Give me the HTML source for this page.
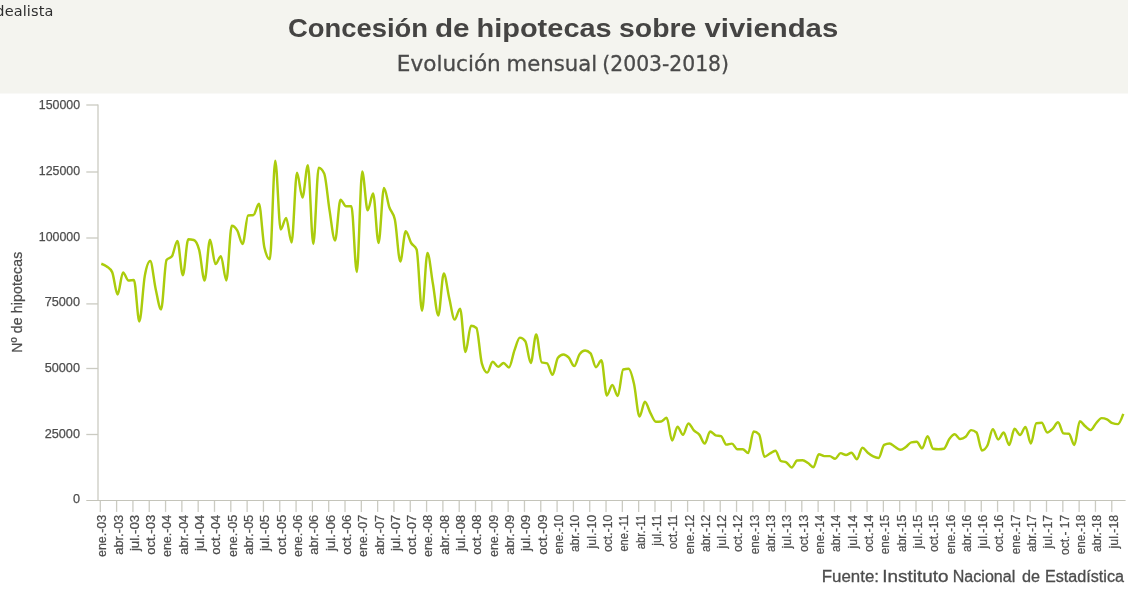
<!DOCTYPE html>
<html lang="es"><head><meta charset="utf-8"><title>Concesión de hipotecas sobre viviendas</title>
<style>
html,body{margin:0;padding:0;background:#fff;}
body{width:1128px;height:591px;position:relative;overflow:hidden;font-family:"Liberation Sans",sans-serif;}
.hdr{position:absolute;left:0;top:0;width:1128px;height:93px;background:#f4f4ef;}
</style></head><body>
<div class="hdr"></div>
<svg width="1128" height="591" viewBox="0 0 1128 591" style="position:absolute;left:0;top:0">
<rect x="0" y="0" width="1128" height="93.5" fill="#f4f4ef"/>
<text y="36.7" font-family="'Liberation Sans',sans-serif" font-size="26" font-weight="bold" fill="#454443"><tspan x="288.02" textLength="140.08" lengthAdjust="spacingAndGlyphs">Concesión</tspan> <tspan x="434.97" textLength="34.66" lengthAdjust="spacingAndGlyphs">de</tspan> <tspan x="476.48" textLength="135.28" lengthAdjust="spacingAndGlyphs">hipotecas</tspan> <tspan x="619.03" textLength="77.34" lengthAdjust="spacingAndGlyphs">sobre</tspan> <tspan x="704.50" textLength="133.72" lengthAdjust="spacingAndGlyphs">viviendas</tspan></text>
<text y="70.6" font-family="'DejaVu Sans','Liberation Sans',sans-serif" font-size="21" fill="#4a4a4a" stroke="#4a4a4a" stroke-width="0.3"><tspan x="396.88" textLength="103.89" lengthAdjust="spacingAndGlyphs">Evolución</tspan> <tspan x="506.49" textLength="90.55" lengthAdjust="spacingAndGlyphs">mensual</tspan> <tspan x="602.36" textLength="126.63" lengthAdjust="spacingAndGlyphs">(2003-2018)</tspan></text>
<text x="-8.8" y="16.0" font-family="'DejaVu Sans','Liberation Sans',sans-serif" font-size="14.5" letter-spacing="0.12" fill="#2e2e2e">idealista</text>
<g stroke="#cbcbc2" stroke-width="1.3" fill="none">
<path d="M98 104.4V501"/>
<path d="M86.3 434.50H98"/>
<path d="M86.3 368.50H98"/>
<path d="M86.3 303.90H98"/>
<path d="M86.3 238.00H98"/>
<path d="M86.3 172.00H98"/>
<path d="M86.3 105.00H98"/>
<path d="M100.30 500.5V511.9"/>
<path d="M116.61 500.5V511.9"/>
<path d="M132.93 500.5V511.9"/>
<path d="M149.24 500.5V511.9"/>
<path d="M165.56 500.5V511.9"/>
<path d="M181.87 500.5V511.9"/>
<path d="M198.18 500.5V511.9"/>
<path d="M214.50 500.5V511.9"/>
<path d="M230.81 500.5V511.9"/>
<path d="M247.13 500.5V511.9"/>
<path d="M263.44 500.5V511.9"/>
<path d="M279.75 500.5V511.9"/>
<path d="M296.07 500.5V511.9"/>
<path d="M312.38 500.5V511.9"/>
<path d="M328.70 500.5V511.9"/>
<path d="M345.01 500.5V511.9"/>
<path d="M361.32 500.5V511.9"/>
<path d="M377.64 500.5V511.9"/>
<path d="M393.95 500.5V511.9"/>
<path d="M410.27 500.5V511.9"/>
<path d="M426.58 500.5V511.9"/>
<path d="M442.89 500.5V511.9"/>
<path d="M459.21 500.5V511.9"/>
<path d="M475.52 500.5V511.9"/>
<path d="M491.84 500.5V511.9"/>
<path d="M508.15 500.5V511.9"/>
<path d="M524.46 500.5V511.9"/>
<path d="M540.78 500.5V511.9"/>
<path d="M557.09 500.5V511.9"/>
<path d="M573.41 500.5V511.9"/>
<path d="M589.72 500.5V511.9"/>
<path d="M606.03 500.5V511.9"/>
<path d="M622.35 500.5V511.9"/>
<path d="M638.66 500.5V511.9"/>
<path d="M654.98 500.5V511.9"/>
<path d="M671.29 500.5V511.9"/>
<path d="M687.60 500.5V511.9"/>
<path d="M703.92 500.5V511.9"/>
<path d="M720.23 500.5V511.9"/>
<path d="M736.55 500.5V511.9"/>
<path d="M752.86 500.5V511.9"/>
<path d="M769.17 500.5V511.9"/>
<path d="M785.49 500.5V511.9"/>
<path d="M801.80 500.5V511.9"/>
<path d="M818.12 500.5V511.9"/>
<path d="M834.43 500.5V511.9"/>
<path d="M850.74 500.5V511.9"/>
<path d="M867.06 500.5V511.9"/>
<path d="M883.37 500.5V511.9"/>
<path d="M899.69 500.5V511.9"/>
<path d="M916.00 500.5V511.9"/>
<path d="M932.31 500.5V511.9"/>
<path d="M948.63 500.5V511.9"/>
<path d="M964.94 500.5V511.9"/>
<path d="M981.26 500.5V511.9"/>
<path d="M997.57 500.5V511.9"/>
<path d="M1013.88 500.5V511.9"/>
<path d="M1030.20 500.5V511.9"/>
<path d="M1046.51 500.5V511.9"/>
<path d="M1062.83 500.5V511.9"/>
<path d="M1079.14 500.5V511.9"/>
<path d="M1095.45 500.5V511.9"/>
<path d="M1111.77 500.5V511.9"/>
</g>
<path d="M86.3 500.5H1125.6" stroke="#c4c4ba" stroke-width="1.1" fill="none"/>
<g font-family="'Liberation Sans',sans-serif" font-size="13.4" fill="#4d4d4d" stroke="#4d4d4d" stroke-width="0.25">
<text x="72.94" y="503.4" textLength="7.06" lengthAdjust="spacingAndGlyphs">0</text>
<text x="44.70" y="437.7" textLength="35.30" lengthAdjust="spacingAndGlyphs">25000</text>
<text x="44.70" y="371.9" textLength="35.30" lengthAdjust="spacingAndGlyphs">50000</text>
<text x="44.70" y="306.2" textLength="35.30" lengthAdjust="spacingAndGlyphs">75000</text>
<text x="38.80" y="240.5" textLength="41.20" lengthAdjust="spacingAndGlyphs">100000</text>
<text x="38.80" y="174.7" textLength="41.20" lengthAdjust="spacingAndGlyphs">125000</text>
<text x="38.80" y="109.0" textLength="41.20" lengthAdjust="spacingAndGlyphs">150000</text>
</g>
<g font-family="'Liberation Sans',sans-serif" font-size="13.3" fill="#4d4d4d" stroke="#4d4d4d" stroke-width="0.25">
<text transform="translate(106.20 514.8) rotate(-90)" x="-42.20" y="0" textLength="42.20" lengthAdjust="spacingAndGlyphs">ene.-03</text>
<text transform="translate(122.51 514.8) rotate(-90)" x="-39.90" y="0" textLength="39.90" lengthAdjust="spacingAndGlyphs">abr.-03</text>
<text transform="translate(138.83 514.8) rotate(-90)" x="-36.30" y="0" textLength="36.30" lengthAdjust="spacingAndGlyphs">jul.-03</text>
<text transform="translate(155.14 514.8) rotate(-90)" x="-39.90" y="0" textLength="39.90" lengthAdjust="spacingAndGlyphs">oct.-03</text>
<text transform="translate(171.46 514.8) rotate(-90)" x="-42.20" y="0" textLength="42.20" lengthAdjust="spacingAndGlyphs">ene.-04</text>
<text transform="translate(187.77 514.8) rotate(-90)" x="-39.90" y="0" textLength="39.90" lengthAdjust="spacingAndGlyphs">abr.-04</text>
<text transform="translate(204.08 514.8) rotate(-90)" x="-36.30" y="0" textLength="36.30" lengthAdjust="spacingAndGlyphs">jul.-04</text>
<text transform="translate(220.40 514.8) rotate(-90)" x="-39.90" y="0" textLength="39.90" lengthAdjust="spacingAndGlyphs">oct.-04</text>
<text transform="translate(236.71 514.8) rotate(-90)" x="-42.20" y="0" textLength="42.20" lengthAdjust="spacingAndGlyphs">ene.-05</text>
<text transform="translate(253.03 514.8) rotate(-90)" x="-39.90" y="0" textLength="39.90" lengthAdjust="spacingAndGlyphs">abr.-05</text>
<text transform="translate(269.34 514.8) rotate(-90)" x="-36.30" y="0" textLength="36.30" lengthAdjust="spacingAndGlyphs">jul.-05</text>
<text transform="translate(285.65 514.8) rotate(-90)" x="-39.90" y="0" textLength="39.90" lengthAdjust="spacingAndGlyphs">oct.-05</text>
<text transform="translate(301.97 514.8) rotate(-90)" x="-42.20" y="0" textLength="42.20" lengthAdjust="spacingAndGlyphs">ene.-06</text>
<text transform="translate(318.28 514.8) rotate(-90)" x="-39.90" y="0" textLength="39.90" lengthAdjust="spacingAndGlyphs">abr.-06</text>
<text transform="translate(334.60 514.8) rotate(-90)" x="-36.30" y="0" textLength="36.30" lengthAdjust="spacingAndGlyphs">jul.-06</text>
<text transform="translate(350.91 514.8) rotate(-90)" x="-39.90" y="0" textLength="39.90" lengthAdjust="spacingAndGlyphs">oct.-06</text>
<text transform="translate(367.22 514.8) rotate(-90)" x="-42.20" y="0" textLength="42.20" lengthAdjust="spacingAndGlyphs">ene.-07</text>
<text transform="translate(383.54 514.8) rotate(-90)" x="-39.90" y="0" textLength="39.90" lengthAdjust="spacingAndGlyphs">abr.-07</text>
<text transform="translate(399.85 514.8) rotate(-90)" x="-36.30" y="0" textLength="36.30" lengthAdjust="spacingAndGlyphs">jul.-07</text>
<text transform="translate(416.17 514.8) rotate(-90)" x="-39.90" y="0" textLength="39.90" lengthAdjust="spacingAndGlyphs">oct.-07</text>
<text transform="translate(432.48 514.8) rotate(-90)" x="-42.20" y="0" textLength="42.20" lengthAdjust="spacingAndGlyphs">ene.-08</text>
<text transform="translate(448.79 514.8) rotate(-90)" x="-39.90" y="0" textLength="39.90" lengthAdjust="spacingAndGlyphs">abr.-08</text>
<text transform="translate(465.11 514.8) rotate(-90)" x="-36.30" y="0" textLength="36.30" lengthAdjust="spacingAndGlyphs">jul.-08</text>
<text transform="translate(481.42 514.8) rotate(-90)" x="-39.90" y="0" textLength="39.90" lengthAdjust="spacingAndGlyphs">oct.-08</text>
<text transform="translate(497.74 514.8) rotate(-90)" x="-42.20" y="0" textLength="42.20" lengthAdjust="spacingAndGlyphs">ene.-09</text>
<text transform="translate(514.05 514.8) rotate(-90)" x="-39.90" y="0" textLength="39.90" lengthAdjust="spacingAndGlyphs">abr.-09</text>
<text transform="translate(530.36 514.8) rotate(-90)" x="-36.30" y="0" textLength="36.30" lengthAdjust="spacingAndGlyphs">jul.-09</text>
<text transform="translate(546.68 514.8) rotate(-90)" x="-39.90" y="0" textLength="39.90" lengthAdjust="spacingAndGlyphs">oct.-09</text>
<text transform="translate(562.99 514.8) rotate(-90)" x="-39.50" y="0" textLength="39.50" lengthAdjust="spacingAndGlyphs">ene.-10</text>
<text transform="translate(579.31 514.8) rotate(-90)" x="-37.20" y="0" textLength="37.20" lengthAdjust="spacingAndGlyphs">abr.-10</text>
<text transform="translate(595.62 514.8) rotate(-90)" x="-33.60" y="0" textLength="33.60" lengthAdjust="spacingAndGlyphs">jul.-10</text>
<text transform="translate(611.93 514.8) rotate(-90)" x="-37.20" y="0" textLength="37.20" lengthAdjust="spacingAndGlyphs">oct.-10</text>
<text transform="translate(628.25 514.8) rotate(-90)" x="-36.80" y="0" textLength="36.80" lengthAdjust="spacingAndGlyphs">ene.-11</text>
<text transform="translate(644.56 514.8) rotate(-90)" x="-34.50" y="0" textLength="34.50" lengthAdjust="spacingAndGlyphs">abr.-11</text>
<text transform="translate(660.88 514.8) rotate(-90)" x="-30.90" y="0" textLength="30.90" lengthAdjust="spacingAndGlyphs">jul.-11</text>
<text transform="translate(677.19 514.8) rotate(-90)" x="-34.50" y="0" textLength="34.50" lengthAdjust="spacingAndGlyphs">oct.-11</text>
<text transform="translate(693.50 514.8) rotate(-90)" x="-39.50" y="0" textLength="39.50" lengthAdjust="spacingAndGlyphs">ene.-12</text>
<text transform="translate(709.82 514.8) rotate(-90)" x="-37.20" y="0" textLength="37.20" lengthAdjust="spacingAndGlyphs">abr.-12</text>
<text transform="translate(726.13 514.8) rotate(-90)" x="-33.60" y="0" textLength="33.60" lengthAdjust="spacingAndGlyphs">jul.-12</text>
<text transform="translate(742.45 514.8) rotate(-90)" x="-37.20" y="0" textLength="37.20" lengthAdjust="spacingAndGlyphs">oct.-12</text>
<text transform="translate(758.76 514.8) rotate(-90)" x="-39.50" y="0" textLength="39.50" lengthAdjust="spacingAndGlyphs">ene.-13</text>
<text transform="translate(775.07 514.8) rotate(-90)" x="-37.20" y="0" textLength="37.20" lengthAdjust="spacingAndGlyphs">abr.-13</text>
<text transform="translate(791.39 514.8) rotate(-90)" x="-33.60" y="0" textLength="33.60" lengthAdjust="spacingAndGlyphs">jul.-13</text>
<text transform="translate(807.70 514.8) rotate(-90)" x="-37.20" y="0" textLength="37.20" lengthAdjust="spacingAndGlyphs">oct.-13</text>
<text transform="translate(824.02 514.8) rotate(-90)" x="-39.50" y="0" textLength="39.50" lengthAdjust="spacingAndGlyphs">ene.-14</text>
<text transform="translate(840.33 514.8) rotate(-90)" x="-37.20" y="0" textLength="37.20" lengthAdjust="spacingAndGlyphs">abr.-14</text>
<text transform="translate(856.64 514.8) rotate(-90)" x="-33.60" y="0" textLength="33.60" lengthAdjust="spacingAndGlyphs">jul.-14</text>
<text transform="translate(872.96 514.8) rotate(-90)" x="-37.20" y="0" textLength="37.20" lengthAdjust="spacingAndGlyphs">oct.-14</text>
<text transform="translate(889.27 514.8) rotate(-90)" x="-39.50" y="0" textLength="39.50" lengthAdjust="spacingAndGlyphs">ene.-15</text>
<text transform="translate(905.59 514.8) rotate(-90)" x="-37.20" y="0" textLength="37.20" lengthAdjust="spacingAndGlyphs">abr.-15</text>
<text transform="translate(921.90 514.8) rotate(-90)" x="-33.60" y="0" textLength="33.60" lengthAdjust="spacingAndGlyphs">jul.-15</text>
<text transform="translate(938.21 514.8) rotate(-90)" x="-37.20" y="0" textLength="37.20" lengthAdjust="spacingAndGlyphs">oct.-15</text>
<text transform="translate(954.53 514.8) rotate(-90)" x="-39.50" y="0" textLength="39.50" lengthAdjust="spacingAndGlyphs">ene.-16</text>
<text transform="translate(970.84 514.8) rotate(-90)" x="-37.20" y="0" textLength="37.20" lengthAdjust="spacingAndGlyphs">abr.-16</text>
<text transform="translate(987.16 514.8) rotate(-90)" x="-33.60" y="0" textLength="33.60" lengthAdjust="spacingAndGlyphs">jul.-16</text>
<text transform="translate(1003.47 514.8) rotate(-90)" x="-37.20" y="0" textLength="37.20" lengthAdjust="spacingAndGlyphs">oct.-16</text>
<text transform="translate(1019.78 514.8) rotate(-90)" x="-39.50" y="0" textLength="39.50" lengthAdjust="spacingAndGlyphs">ene.-17</text>
<text transform="translate(1036.10 514.8) rotate(-90)" x="-37.20" y="0" textLength="37.20" lengthAdjust="spacingAndGlyphs">abr.-17</text>
<text transform="translate(1052.41 514.8) rotate(-90)" x="-33.60" y="0" textLength="33.60" lengthAdjust="spacingAndGlyphs">jul.-17</text>
<text transform="translate(1068.73 514.8) rotate(-90)" x="-40.20" y="0" textLength="40.20" lengthAdjust="spacingAndGlyphs">oct.- 17</text>
<text transform="translate(1085.04 514.8) rotate(-90)" x="-39.50" y="0" textLength="39.50" lengthAdjust="spacingAndGlyphs">ene.-18</text>
<text transform="translate(1101.35 514.8) rotate(-90)" x="-37.20" y="0" textLength="37.20" lengthAdjust="spacingAndGlyphs">abr.-18</text>
<text transform="translate(1117.67 514.8) rotate(-90)" x="-33.60" y="0" textLength="33.60" lengthAdjust="spacingAndGlyphs">jul.-18</text>
</g>
<text transform="translate(22.3 302.2) rotate(-90)" text-anchor="middle" font-family="'Liberation Sans',sans-serif" font-size="14" letter-spacing="0.18" fill="#4d4d4d" stroke="#4d4d4d" stroke-width="0.25">Nº de hipotecas</text>
<path d="M101.30 263.75 C103.11 264.43 104.92 265.11 106.74 266.50 C108.55 267.89 110.36 268.37 112.17 272.10 C113.98 275.83 115.80 294.50 117.61 294.50 C119.42 294.50 121.23 272.50 123.04 272.50 C124.86 272.50 126.67 280.50 128.48 280.50 C130.29 280.50 132.10 280.00 133.92 280.00 C135.73 280.00 137.54 321.50 139.35 321.50 C141.17 321.50 142.98 285.83 144.79 275.90 C146.60 265.97 148.41 261.00 150.23 261.00 C152.04 261.00 153.85 280.83 155.66 288.90 C157.47 296.97 159.29 309.40 161.10 309.40 C162.91 309.40 164.72 262.47 166.53 260.00 C168.35 257.53 170.16 258.77 171.97 256.30 C173.78 253.83 175.59 240.90 177.41 240.90 C179.22 240.90 181.03 275.30 182.84 275.30 C184.65 275.30 186.47 239.30 188.28 239.30 C190.09 239.30 191.90 239.53 193.71 240.00 C195.53 240.47 197.34 243.27 199.15 249.80 C200.96 256.33 202.78 280.50 204.59 280.50 C206.40 280.50 208.21 239.60 210.02 239.60 C211.84 239.60 213.65 264.10 215.46 264.10 C217.27 264.10 219.08 256.30 220.90 256.30 C222.71 256.30 224.52 280.50 226.33 280.50 C228.14 280.50 229.96 225.70 231.77 225.70 C233.58 225.70 235.39 227.35 237.20 230.40 C239.02 233.45 240.83 244.00 242.64 244.00 C244.45 244.00 246.26 215.83 248.08 215.50 C249.89 215.17 251.70 215.33 253.51 215.00 C255.32 214.67 257.14 203.80 258.95 203.80 C260.76 203.80 262.57 239.63 264.39 247.50 C266.20 255.37 268.01 259.30 269.82 259.30 C271.63 259.30 273.45 160.60 275.26 160.60 C277.07 160.60 278.88 229.50 280.69 229.50 C282.51 229.50 284.32 217.90 286.13 217.90 C287.94 217.90 289.75 242.50 291.57 242.50 C293.38 242.50 295.19 172.70 297.00 172.70 C298.81 172.70 300.63 197.50 302.44 197.50 C304.25 197.50 306.06 165.20 307.87 165.20 C309.69 165.20 311.50 244.00 313.31 244.00 C315.12 244.00 316.93 167.70 318.75 167.70 C320.56 167.70 322.37 169.63 324.18 173.50 C326.00 177.37 327.81 199.72 329.62 210.90 C331.43 222.08 333.24 240.60 335.06 240.60 C336.87 240.60 338.68 199.70 340.49 199.70 C342.30 199.70 344.12 206.20 345.93 206.20 C347.74 206.20 349.55 206.20 351.36 206.20 C353.18 206.20 354.99 272.00 356.80 272.00 C358.61 272.00 360.42 171.50 362.24 171.50 C364.05 171.50 365.86 210.30 367.67 210.30 C369.48 210.30 371.30 193.50 373.11 193.50 C374.92 193.50 376.73 242.90 378.54 242.90 C380.36 242.90 382.17 187.90 383.98 187.90 C385.79 187.90 387.60 202.22 389.42 207.50 C391.23 212.78 393.04 211.53 394.85 219.60 C396.67 227.67 398.48 261.50 400.29 261.50 C402.10 261.50 403.91 231.30 405.73 231.30 C407.54 231.30 409.35 239.98 411.16 243.00 C412.97 246.02 414.79 245.13 416.60 249.40 C418.41 253.67 420.22 310.70 422.03 310.70 C423.85 310.70 425.66 253.00 427.47 253.00 C429.28 253.00 431.09 273.35 432.91 283.75 C434.72 294.15 436.53 315.40 438.34 315.40 C440.15 315.40 441.97 273.50 443.78 273.50 C445.59 273.50 447.40 290.32 449.21 298.00 C451.03 305.68 452.84 319.60 454.65 319.60 C456.46 319.60 458.28 308.60 460.09 308.60 C461.90 308.60 463.71 352.10 465.52 352.10 C467.34 352.10 469.15 325.80 470.96 325.80 C472.77 325.80 474.58 326.53 476.40 328.00 C478.21 329.47 480.02 357.10 481.83 363.30 C483.64 369.50 485.46 372.60 487.27 372.60 C489.08 372.60 490.89 361.80 492.70 361.80 C494.52 361.80 496.33 366.70 498.14 366.70 C499.95 366.70 501.76 362.90 503.58 362.90 C505.39 362.90 507.20 367.40 509.01 367.40 C510.82 367.40 512.64 355.27 514.45 350.30 C516.26 345.33 518.07 337.60 519.89 337.60 C521.70 337.60 523.51 338.83 525.32 341.30 C527.13 343.77 528.95 362.90 530.76 362.90 C532.57 362.90 534.38 334.40 536.19 334.40 C538.01 334.40 539.82 361.80 541.63 362.40 C543.44 363.00 545.25 362.70 547.07 363.30 C548.88 363.90 550.69 374.80 552.50 374.80 C554.31 374.80 556.13 359.90 557.94 357.70 C559.75 355.50 561.56 354.40 563.37 354.40 C565.19 354.40 567.00 355.75 568.81 357.70 C570.62 359.65 572.43 366.10 574.25 366.10 C576.06 366.10 577.87 356.57 579.68 354.10 C581.50 351.63 583.31 350.40 585.12 350.40 C586.93 350.40 588.74 351.37 590.56 353.30 C592.37 355.23 594.18 367.20 595.99 367.20 C597.80 367.20 599.62 360.30 601.43 360.30 C603.24 360.30 605.05 395.50 606.86 395.50 C608.68 395.50 610.49 384.90 612.30 384.90 C614.11 384.90 615.92 396.10 617.74 396.10 C619.55 396.10 621.36 370.03 623.17 369.50 C624.98 368.97 626.80 368.70 628.61 368.70 C630.42 368.70 632.23 376.02 634.04 384.00 C635.86 391.98 637.67 416.60 639.48 416.60 C641.29 416.60 643.10 401.70 644.92 401.70 C646.73 401.70 648.54 409.57 650.35 412.90 C652.17 416.23 653.98 421.70 655.79 421.70 C657.60 421.70 659.41 421.63 661.23 421.50 C663.04 421.37 664.85 417.80 666.66 417.80 C668.47 417.80 670.29 440.50 672.10 440.50 C673.91 440.50 675.72 426.70 677.53 426.70 C679.35 426.70 681.16 434.80 682.97 434.80 C684.78 434.80 686.59 423.40 688.41 423.40 C690.22 423.40 692.03 428.53 693.84 430.40 C695.65 432.27 697.47 432.40 699.28 434.60 C701.09 436.80 702.90 443.60 704.71 443.60 C706.53 443.60 708.34 431.50 710.15 431.50 C711.96 431.50 713.78 434.70 715.59 435.30 C717.40 435.90 719.21 435.60 721.02 436.20 C722.84 436.80 724.65 444.60 726.46 444.60 C728.27 444.60 730.08 443.60 731.90 443.60 C733.71 443.60 735.52 449.20 737.33 449.20 C739.14 449.20 740.96 449.20 742.77 449.20 C744.58 449.20 746.39 453.00 748.20 453.00 C750.02 453.00 751.83 431.50 753.64 431.50 C755.45 431.50 757.26 432.43 759.08 434.30 C760.89 436.17 762.70 456.70 764.51 456.70 C766.32 456.70 768.14 454.50 769.95 453.50 C771.76 452.50 773.57 450.70 775.39 450.70 C777.20 450.70 779.01 460.13 780.82 461.00 C782.63 461.87 784.45 461.43 786.26 462.30 C788.07 463.17 789.88 467.50 791.69 467.50 C793.51 467.50 795.32 460.70 797.13 460.50 C798.94 460.30 800.75 460.20 802.57 460.20 C804.38 460.20 806.19 461.83 808.00 463.00 C809.81 464.17 811.63 467.20 813.44 467.20 C815.25 467.20 817.06 454.20 818.87 454.20 C820.69 454.20 822.50 456.10 824.31 456.10 C826.12 456.10 827.93 456.10 829.75 456.10 C831.56 456.10 833.37 458.70 835.18 458.70 C837.00 458.70 838.81 453.10 840.62 453.10 C842.43 453.10 844.24 455.00 846.06 455.00 C847.87 455.00 849.68 452.70 851.49 452.70 C853.30 452.70 855.12 459.20 856.93 459.20 C858.74 459.20 860.55 447.70 862.36 447.70 C864.18 447.70 865.99 451.25 867.80 452.70 C869.61 454.15 871.42 455.53 873.24 456.40 C875.05 457.27 876.86 457.90 878.67 457.90 C880.48 457.90 882.30 445.90 884.11 444.90 C885.92 443.90 887.73 443.40 889.54 443.40 C891.36 443.40 893.17 445.73 894.98 446.80 C896.79 447.87 898.60 449.80 900.42 449.80 C902.23 449.80 904.04 448.23 905.85 447.00 C907.67 445.77 909.48 442.80 911.29 442.40 C913.10 442.00 914.91 441.80 916.73 441.80 C918.54 441.80 920.35 448.30 922.16 448.30 C923.97 448.30 925.79 436.20 927.60 436.20 C929.41 436.20 931.22 448.37 933.03 448.70 C934.85 449.03 936.66 449.20 938.47 449.20 C940.28 449.20 942.09 449.03 943.91 448.70 C945.72 448.37 947.53 441.40 949.34 439.00 C951.15 436.60 952.97 434.30 954.78 434.30 C956.59 434.30 958.40 439.00 960.21 439.00 C962.03 439.00 963.84 438.27 965.65 436.80 C967.46 435.33 969.28 430.10 971.09 430.10 C972.90 430.10 974.71 430.90 976.52 432.50 C978.34 434.10 980.15 450.50 981.96 450.50 C983.77 450.50 985.58 448.83 987.40 445.50 C989.21 442.17 991.02 429.30 992.83 429.30 C994.64 429.30 996.46 439.40 998.27 439.40 C1000.08 439.40 1001.89 432.50 1003.70 432.50 C1005.52 432.50 1007.33 445.00 1009.14 445.00 C1010.95 445.00 1012.76 428.80 1014.58 428.80 C1016.39 428.80 1018.20 434.90 1020.01 434.90 C1021.82 434.90 1023.64 426.90 1025.45 426.90 C1027.26 426.90 1029.07 443.40 1030.89 443.40 C1032.70 443.40 1034.51 423.47 1036.32 423.20 C1038.13 422.93 1039.95 422.80 1041.76 422.80 C1043.57 422.80 1045.38 432.50 1047.19 432.50 C1049.01 432.50 1050.82 430.52 1052.63 428.80 C1054.44 427.08 1056.25 422.20 1058.07 422.20 C1059.88 422.20 1061.69 433.13 1063.50 433.40 C1065.31 433.67 1067.13 433.53 1068.94 433.80 C1070.75 434.07 1072.56 445.00 1074.37 445.00 C1076.19 445.00 1078.00 421.30 1079.81 421.30 C1081.62 421.30 1083.43 424.83 1085.25 426.30 C1087.06 427.77 1088.87 430.10 1090.68 430.10 C1092.50 430.10 1094.31 425.20 1096.12 423.20 C1097.93 421.20 1099.74 418.10 1101.56 418.10 C1103.37 418.10 1105.18 418.55 1106.99 419.40 C1108.80 420.25 1110.62 422.60 1112.43 423.20 C1114.24 423.80 1116.05 424.10 1117.86 424.10 C1119.68 424.10 1121.49 419.00 1123.30 413.90" fill="none" stroke="#abcc0c" stroke-width="2.45" stroke-linejoin="round" stroke-linecap="butt"/>
<text y="582.3" font-family="'Liberation Sans',sans-serif" font-size="16" fill="#4d4d4d" stroke="#4d4d4d" stroke-width="0.3"><tspan x="821.77" textLength="57.19" lengthAdjust="spacingAndGlyphs">Fuente:</tspan> <tspan x="882.29" textLength="66.12" lengthAdjust="spacingAndGlyphs">Instituto</tspan> <tspan x="952.78" textLength="62.50" lengthAdjust="spacingAndGlyphs">Nacional</tspan> <tspan x="1021.99" textLength="18.03" lengthAdjust="spacingAndGlyphs">de</tspan> <tspan x="1045.02" textLength="78.98" lengthAdjust="spacingAndGlyphs">Estadística</tspan></text>
</svg>
</body></html>
